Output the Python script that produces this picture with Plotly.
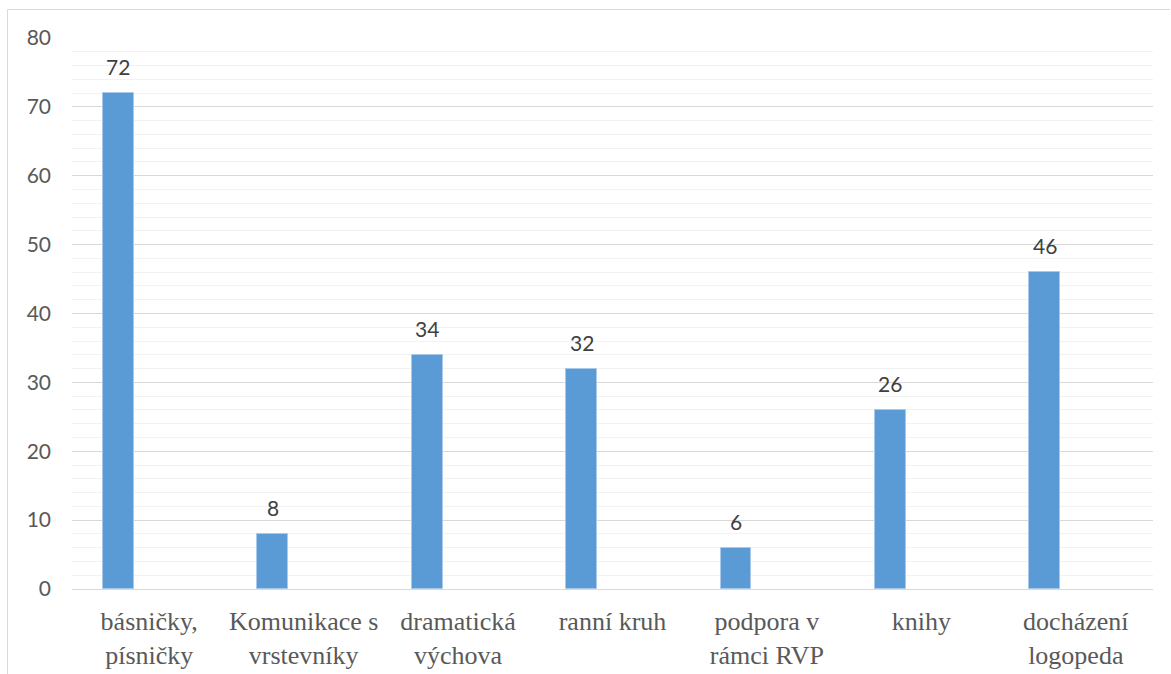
import plotly.graph_objects as go

categories = [
    "básničky,<br>písničky",
    "Komunikace s<br>vrstevníky",
    "dramatická<br>výchova",
    "ranní kruh",
    "podpora v<br>rámci RVP",
    "knihy",
    "docházení<br>logopeda",
]
values = [72, 8, 34, 32, 6, 26, 46]
y_ticks = [0, 10, 20, 30, 40, 50, 60, 70, 80]

W, H = 1171, 674
ML, MR, MT, MB = 72, 18, 38, 85
plot_w = W - ML - MR
cat_w = plot_w / len(categories)

BAR_OFFSET = -0.30
BAR_WIDTH = 0.20

fig = go.Figure()
fig.add_trace(go.Bar(
    x=categories,
    y=values,
    offset=BAR_OFFSET,
    width=BAR_WIDTH,
    marker=dict(color="#5b9bd5", line=dict(color="#a9c8ea", width=1)),
    hoverinfo="x+y",
))

# value labels above each bar
for c, v in zip(categories, values):
    fig.add_annotation(
        x=c, y=v, text=str(v), showarrow=False,
        xanchor="center", yanchor="bottom",
        xshift=(BAR_OFFSET + BAR_WIDTH / 2) * cat_w,
        yshift=12,
        font=dict(family="Lato", size=21, color="#404040"),
    )

# outer chart border
px0 = (7.5 - ML) / plot_w
px1 = (1170 - ML) / plot_w
py1 = (H - MB - 9.5) / (H - MT - MB)
fig.add_shape(type="path",
              path=f"M {px0} -1 L {px0} {py1} L {px1} {py1}",
              xref="paper", yref="paper",
              line=dict(color="#d9d9d9", width=1))

fig.update_layout(
    width=W, height=H,
    margin=dict(l=ML, r=MR, t=MT, b=MB, autoexpand=False),
    plot_bgcolor="white", paper_bgcolor="white",
    showlegend=False,
    bargap=0,
)
fig.update_xaxes(
    type="category", automargin=False,
    showgrid=False, zeroline=False,
    showline=False,
    ticks="outside", ticklen=9, tickcolor="rgba(0,0,0,0)",
    tickfont=dict(family="Liberation Serif", size=26, color="#595959"),
)
fig.update_yaxes(
    range=[0, 80], automargin=False,
    tickvals=y_ticks,
    showgrid=True, gridcolor="#d9d9d9", gridwidth=1,
    zeroline=True, zerolinecolor="#d9d9d9", zerolinewidth=1,
    minor=dict(dtick=2, showgrid=True, gridcolor="#f2f2f2", gridwidth=1),
    ticks="", ticklabelstandoff=20,
    tickfont=dict(family="Lato", size=21, color="#595959"),
)

fig.write_html("out.html")
